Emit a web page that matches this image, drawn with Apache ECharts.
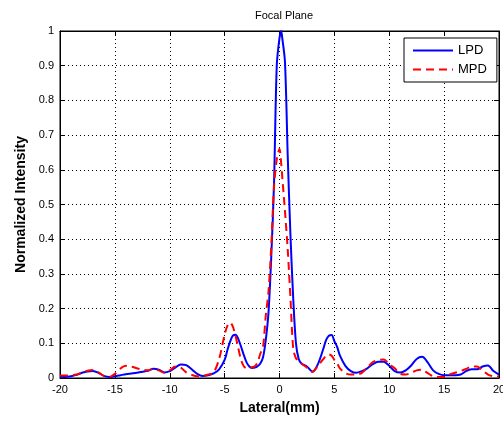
<!DOCTYPE html>
<html><head><meta charset="utf-8">
<script src="https://cdn.jsdelivr.net/npm/echarts@6/dist/echarts.min.js"></script>
<style>html,body{margin:0;padding:0;background:#fff;overflow:hidden}#c{width:503px;height:421px}</style>
</head><body><div id="c"></div>
<script>
const titleText = 'Focal Plane';
const xName = 'Lateral(mm)';
const yName = 'Normalized Intensity';
const seriesNames = ['LPD', 'MPD'];
const xTicks = [-20, -15, -10, -5, 0, 5, 10, 15, 20];
const yTicks = [0, 0.1, 0.2, 0.3, 0.4, 0.5, 0.6, 0.7, 0.8, 0.9, 1];

const lateral = [-20,-19.5,-19,-18.5,-18,-17.5,-17,-16.5,-16,-15.5,-15,-14.5,-14,-13.5,-13,-12.5,-12,-11.5,-11,-10.5,-10,-9.5,-9,-8.5,-8,-7.5,-7,-6.5,-6,-5.5,-5,-4.75,-4.5,-4.25,-4,-3.75,-3.5,-3.25,-3,-2.75,-2.5,-2.25,-2,-1.75,-1.5,-1.25,-1,-0.75,-0.5,-0.25,0,0.15,0.25,0.5,0.75,1,1.25,1.5,1.75,2,2.5,3,3.5,4,4.25,4.5,4.75,5,5.25,5.5,6,6.5,7,7.5,8,8.5,9,9.5,10,10.5,11,11.5,12,12.5,13,13.5,14,14.5,15,15.5,16,16.5,17,17.5,18,18.5,19,19.5,20];

const lpd = [0.003,0.003,0.005,0.009,0.015,0.019,0.02,0.015,0.006,0.003,0.005,0.008,0.011,0.013,0.015,0.018,0.021,0.027,0.024,0.016,0.02,0.03,0.039,0.037,0.025,0.012,0.006,0.008,0.013,0.025,0.052,0.08,0.105,0.122,0.125,0.112,0.09,0.066,0.045,0.033,0.029,0.03,0.034,0.042,0.06,0.11,0.19,0.35,0.56,0.9,0.98,1.0,0.98,0.91,0.64,0.41,0.23,0.1,0.055,0.042,0.033,0.018,0.04,0.085,0.11,0.122,0.124,0.106,0.09,0.065,0.035,0.02,0.015,0.02,0.028,0.04,0.047,0.047,0.035,0.02,0.016,0.022,0.036,0.055,0.061,0.045,0.022,0.012,0.008,0.008,0.008,0.01,0.02,0.025,0.025,0.033,0.036,0.02,0.01];

const mpd = [0.007,0.007,0.008,0.01,0.015,0.021,0.023,0.016,0.006,0.003,0.012,0.027,0.035,0.033,0.028,0.024,0.022,0.026,0.022,0.015,0.022,0.033,0.03,0.016,0.009,0.005,0.006,0.01,0.016,0.055,0.125,0.15,0.16,0.148,0.12,0.085,0.052,0.034,0.028,0.029,0.031,0.034,0.045,0.07,0.09,0.18,0.25,0.38,0.55,0.63,0.66,0.62,0.58,0.48,0.37,0.23,0.085,0.057,0.05,0.042,0.03,0.018,0.035,0.055,0.064,0.068,0.064,0.052,0.042,0.028,0.014,0.01,0.01,0.015,0.03,0.046,0.052,0.053,0.04,0.028,0.012,0.01,0.015,0.022,0.024,0.014,0.005,0.003,0.003,0.01,0.015,0.02,0.026,0.033,0.033,0.022,0.01,0.005,0.004];

const FONT = 'Liberation Sans, Arial, sans-serif';
const chart = echarts.init(document.getElementById('c'), null, {renderer: 'canvas'});
const axisCommon = {
  axisLine: {show: true, onZero: false, lineStyle: {color: '#000', width: 1}},
  axisTick: {show: true, inside: true, length: 5, lineStyle: {color: '#000'}},
};
chart.setOption({
  animation: false,
  backgroundColor: '#fff',
  title: {text: titleText, left: 279, top: 5, textAlign: 'center',
    textStyle: {fontFamily: FONT, fontSize: 11, fontWeight: 'normal', color: '#000'}},
  legend: {
    orient: 'vertical', left: 404, top: 38,
    data: seriesNames,
    itemWidth: 40, itemHeight: 12, itemGap: 6,
    padding: [6, 10, 6, 8],
    itemStyle: {opacity: 0},
    backgroundColor: '#fff', borderColor: '#000', borderWidth: 1,
    textStyle: {fontFamily: FONT, fontSize: 13, color: '#000'}
  },
  grid: {left: 60, right: 4, top: 31, bottom: 43, show: true, borderColor: '#000', borderWidth: 1,
    outerBoundsMode: 'none', containLabel: false},
  xAxis: [{
    type: 'value', min: xTicks[0], max: xTicks[xTicks.length-1], interval: 5,
    name: xName, nameLocation: 'middle', nameGap: 23,
    nameTextStyle: {fontFamily: FONT, fontSize: 14, fontWeight: 'bold', color: '#000'},
    axisLabel: {fontFamily: FONT, fontSize: 11, color: '#000', margin: 6},
    splitLine: {show: true, lineStyle: {color: '#000', type: [1, 3], width: 1}},
    ...axisCommon
  }, {
    type: 'value', position: 'top', min: -20, max: 20, interval: 5,
    axisLabel: {show: false}, splitLine: {show: false}, ...axisCommon
  }],
  yAxis: [{
    type: 'value', min: yTicks[0], max: yTicks[yTicks.length-1], interval: 0.1,
    name: yName, nameLocation: 'middle', nameGap: 32,
    nameTextStyle: {fontFamily: FONT, fontSize: 14, fontWeight: 'bold', color: '#000'},
    axisLabel: {fontFamily: FONT, fontSize: 11, color: '#000', margin: 6,
      formatter: v => String(+v.toFixed(1))},
    splitLine: {show: true, lineStyle: {color: '#000', type: [1, 3], width: 1}},
    ...axisCommon
  }, {
    type: 'value', position: 'right', min: 0, max: 1, interval: 0.1,
    axisLabel: {show: false}, splitLine: {show: false}, ...axisCommon
  }],
  series: [{
    name: seriesNames[0], type: 'line', showSymbol: false, symbol: 'none',
    smooth: 0.3,
    data: lateral.map((x, i) => [x, lpd[i]]),
    lineStyle: {color: '#0000ff', width: 2},
    itemStyle: {color: '#0000ff'}, z: 3
  }, {
    name: seriesNames[1], type: 'line', showSymbol: false, symbol: 'none',
    smooth: 0.3,
    data: lateral.map((x, i) => [x, mpd[i]]),
    lineStyle: {color: '#ff0000', width: 2, type: [8, 5]},
    itemStyle: {color: '#ff0000'}, z: 4
  }]
});
</script></body></html>
